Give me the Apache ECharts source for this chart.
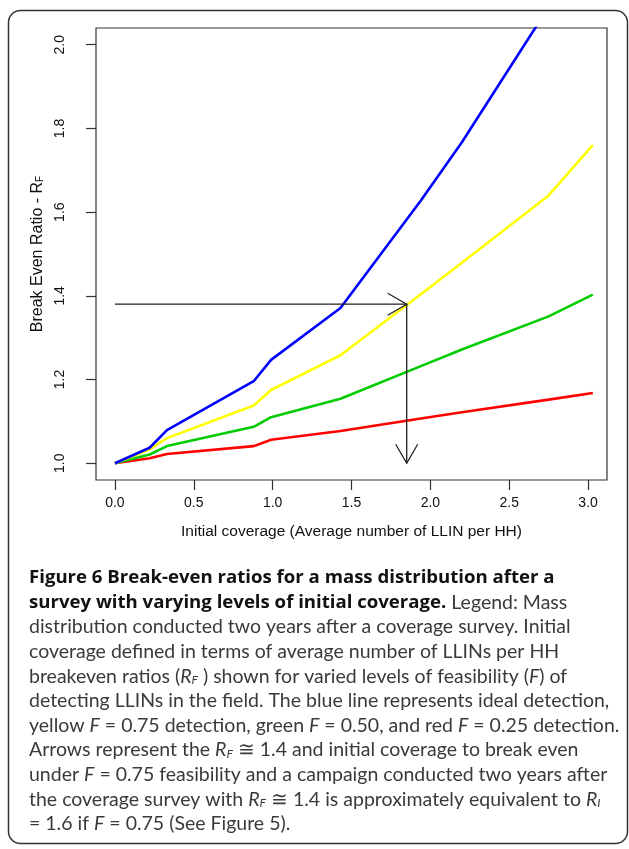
<!DOCTYPE html>
<html>
<head>
<meta charset="utf-8">
<script src="https://cdn.jsdelivr.net/npm/echarts@6/dist/echarts.min.js"></script>
<style>
html,body{margin:0;padding:0;background:#fff}
#chart{width:629px;height:849px}
</style>
</head>
<body>
<div id="chart"></div>
<script>
// initial coverage (x) and break-even ratios per feasibility level
let coverage = [0, 0.22, 0.33, 0.88, 0.99, 1.43, 1.94, 2.2, 2.75, 3.03]
let ideal   = [1.0, 1.037, 1.079, 1.196, 1.247, 1.371, 1.628, 1.767, 2.09, 2.35]
let f075    = [1.0, 1.033, 1.06, 1.138, 1.175, 1.258, 1.404, 1.479, 1.64, 1.76]
let f050    = [1.0, 1.021, 1.041, 1.087, 1.11, 1.154, 1.232, 1.272, 1.351, 1.403]
let f025    = [1.0, 1.012, 1.022, 1.041, 1.056, 1.077, 1.107, 1.122, 1.152, 1.168]

let xTicks = [0, 0.5, 1.0, 1.5, 2.0, 2.5, 3.0]
let yTicks = [1.0, 1.2, 1.4, 1.6, 1.8, 2.0]

// arrow: break even at R_F ~ 1.38 for F = 0.75
let arrowX = 1.85
let arrowY = 1.38

let captionLines = [
    "{b|Figure 6 Break-even ratios for a mass distribution after a}",
    "{b|survey with varying levels of initial coverage.} Legend: Mass",
    "distribution conducted two years after a coverage survey. Initial",
    "coverage defined in terms of average number of LLINs per HH",
    "breakeven ratios ({i|R}{s|F} ) shown for varied levels of feasibility ({i|F}) of",
    "detecting LLINs in the field. The blue line represents ideal detection,",
    "yellow {i|F} = 0.75 detection, green {i|F} = 0.50, and red {i|F} = 0.25 detection.",
    "Arrows represent the {i|R}{s|F} ≅ 1.4 and initial coverage to break even",
    "under {i|F} = 0.75 feasibility and a campaign conducted two years after",
    "the coverage survey with {i|R}{s|F} ≅ 1.4 is approximately equivalent to {i|R}{s|I}",
    "= 1.6 if {i|F} = 0.75 (See Figure 5)."
]

function pairs(ys){
    return coverage.map((x,i)=>[x, ys[i]])
}

let axisFont = {fontFamily:"Liberation Sans", fontSize:14, color:"#111"}
let capFont = "Lato"
let capSize = 19.5

let graphics = [{
    type:"rect",
    shape:{x:8.5, y:10.5, width:619, height:833, r:12},
    style:{fill:"none", stroke:"#333", lineWidth:1.5},
    silent:true
}]
captionLines.forEach(function(line,i){
    graphics.push({
        type:"text",
        left:29,
        top:568 + i*24.6,
        style:{
            text:line,
            fontFamily:capFont,
            fontSize:capSize,
            fill:"#3a3a3a",
            rich:{
                b:{fontFamily:"Open Sans", fontSize:18.6, fontWeight:"bold", fill:"#111"},
                i:{fontFamily:capFont, fontSize:capSize, fontStyle:"italic", fill:"#3a3a3a"},
                s:{fontFamily:capFont, fontSize:12, fontStyle:"italic", fill:"#3a3a3a", padding:[8,0,0,0]}
            }
        },
        silent:true
    })
})

var myChart = echarts.init(document.getElementById("chart"))
var option = {
    animation:false,
    backgroundColor:"#fff",
    grid:{
        left:96, top:28, width:511, height:452,
        show:true, borderColor:"#333", borderWidth:1.2
    },
    xAxis:{
        type:"value",
        min:-0.12, max:3.12,
        name:"Initial coverage (Average number of LLIN per HH)",
        nameLocation:"middle",
        nameGap:44,
        nameTextStyle:{fontFamily:"Liberation Sans", fontSize:15.5, color:"#111"},
        axisLine:{show:false, onZero:false},
        splitLine:{show:false},
        axisTick:{show:true, length:10, customValues:xTicks, lineStyle:{color:"#333", width:1.2}},
        axisLabel:Object.assign({customValues:xTicks, margin:16, formatter:v=>v.toFixed(1)}, axisFont)
    },
    yAxis:{
        type:"value",
        min:0.96, max:2.04,
        name:"{n|Break Even Ratio - R}{s|F}",
        nameLocation:"middle",
        nameRotate:90,
        nameGap:45,
        nameTextStyle:{
            rich:{
                n:{fontFamily:"Liberation Sans", fontSize:16, color:"#111"},
                s:{fontFamily:"Liberation Sans", fontSize:10, color:"#111", padding:[6,0,0,0]}
            }
        },
        axisLine:{show:false, onZero:false},
        splitLine:{show:false},
        axisTick:{show:true, length:10, customValues:yTicks, lineStyle:{color:"#333", width:1.2}},
        axisLabel:Object.assign({customValues:yTicks, rotate:90, margin:29, formatter:v=>v.toFixed(1)}, axisFont)
    },
    series:[
        {name:"F = 0.25", type:"line", data:pairs(f025), showSymbol:false, lineStyle:{color:"#ff0000", width:2.6}},
        {name:"F = 0.50", type:"line", data:pairs(f050), showSymbol:false, lineStyle:{color:"#00cc00", width:2.6}},
        {name:"F = 0.75", type:"line", data:pairs(f075), showSymbol:false, lineStyle:{color:"#ffff00", width:2.6}},
        {name:"ideal", type:"line", data:pairs(ideal), showSymbol:false, lineStyle:{color:"#0000ff", width:2.6}},
        {
            type:"custom",
            data:[[arrowX, arrowY]],
            renderItem:function(params, api){
                let p0 = api.coord([0, arrowY])
                let p1 = api.coord([arrowX, arrowY])
                let p2 = api.coord([arrowX, 1.0])
                let st = {stroke:"#222", lineWidth:1.3, fill:"none"}
                return {
                    type:"group",
                    children:[
                        {type:"polyline", shape:{points:[p0, p1, p2]}, style:st},
                        {type:"polyline", shape:{points:[[p1[0]-19, p1[1]-11], p1, [p1[0]-19, p1[1]+11]]}, style:st},
                        {type:"polyline", shape:{points:[[p2[0]-11, p2[1]-19], p2, [p2[0]+11, p2[1]-19]]}, style:st}
                    ]
                }
            },
            z:5
        }
    ],
    graphic:graphics
}
myChart.setOption(option)
</script>
</body>
</html>
